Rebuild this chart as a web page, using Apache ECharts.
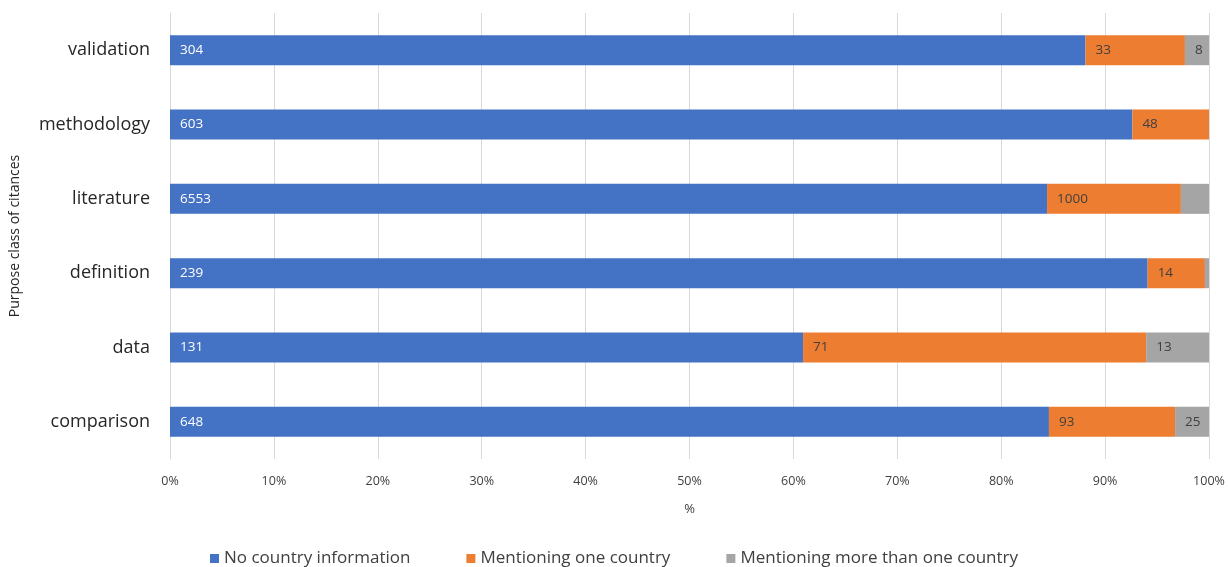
<!DOCTYPE html>
<html>
<head>
<meta charset="utf-8">
<script src="https://cdn.jsdelivr.net/npm/echarts@6/dist/echarts.min.js"></script>
<style>
  html, body { margin: 0; padding: 0; background: #fff; }
  #chart { width: 1228px; height: 567px; }
</style>
</head>
<body>
<div id="chart"></div>
<script>
// categories bottom -> top (category axis starts at the bottom)
var categories = ['comparison', 'data', 'definition', 'literature', 'methodology', 'validation'];
var seriesNames = ['No country information', 'Mentioning one country', 'Mentioning more than one country'];
// raw counts of citances
var noCountry = [648, 131, 239, 6553, 603, 304];
var oneCountry = [93, 71, 14, 1000, 48, 33];
var moreCountries = [25, 13, 1, 210, 0, 8];
// gray labels the original leaves out
var hideLabel = ['definition', 'literature', 'methodology'];
var xTicks = ['0%', '10%', '20%', '30%', '40%', '50%', '60%', '70%', '80%', '90%', '100%'];

var colors = ['#4472c4', '#ed7d31', '#a5a5a5'];
var raw = [noCountry, oneCountry, moreCountries];

var totals = categories.map(function (c, i) {
  return noCountry[i] + oneCountry[i] + moreCountries[i];
});

var chart = echarts.init(document.getElementById('chart'));

var series = raw.map(function (arr, s) {
  return {
    name: seriesNames[s],
    type: 'bar',
    stack: 'total',
    barWidth: 30,
    itemStyle: { color: colors[s] },
    label: {
      show: true,
      position: 'insideLeft',
      distance: 10,
      fontFamily: 'Open Sans',
      fontSize: 13.5,
      color: s === 0 ? '#ffffff' : '#404040',
      formatter: function (p) { return p.data.count; }
    },
    data: arr.map(function (v, i) {
      var item = { value: v / totals[i] * 100, count: v };
      if (s === 2 && hideLabel.indexOf(categories[i]) >= 0) {
        item.label = { show: false };
      }
      return item;
    })
  };
});

var option = {
  animation: false,
  textStyle: { fontFamily: 'Open Sans' },
  legend: {
    data: seriesNames,
    bottom: -5,
    left: 'center',
    itemWidth: 9,
    itemHeight: 9,
    itemGap: 56,
    icon: 'rect',
    textStyle: { fontSize: 17, color: '#404040', fontFamily: 'Open Sans' }
  },
  grid: {
    left: 170,
    right: 19,
    top: 13,
    bottom: 108,
    containLabel: false,
    outerBoundsMode: 'none'
  },
  xAxis: {
    type: 'value',
    min: 0,
    max: 100,
    interval: 10,
    name: '%',
    nameLocation: 'middle',
    nameGap: 44,
    nameTextStyle: { fontSize: 13, color: '#404040' },
    axisLine: { show: false },
    axisTick: { show: false },
    axisLabel: {
      fontSize: 12.5,
      color: '#404040',
      margin: 16,
      formatter: function (v) { return xTicks[Math.round(v / 10)]; }
    },
    splitLine: { show: true, lineStyle: { color: '#d9d9d9', width: 1 } }
  },
  yAxis: {
    type: 'category',
    data: categories,
    name: 'Purpose class of citances',
    nameLocation: 'middle',
    nameGap: 148,
    nameTextStyle: { fontSize: 14, color: '#262626' },
    axisLine: { show: true, lineStyle: { color: '#d9d9d9' } },
    axisTick: { show: false },
    axisLabel: { fontSize: 18, color: '#262626', margin: 20 }
  },
  series: series
};

chart.setOption(option);
</script>
</body>
</html>
